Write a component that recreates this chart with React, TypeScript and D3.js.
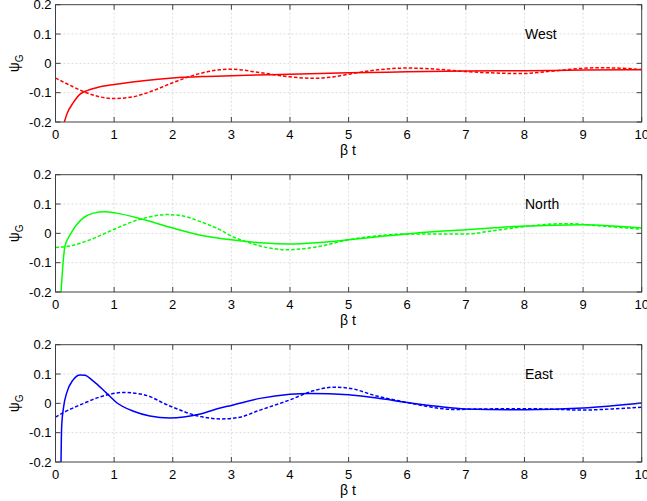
import React from "react";
import * as d3 from "d3";

type Pt = [number, number];

const xTicks = [0, 1, 2, 3, 4, 5, 6, 7, 8, 9, 10];
const yTicks = [-0.2, -0.1, 0, 0.1, 0.2];
const yTickLabels = ["-0.2", "-0.1", "0", "0.1", "0.2"];
const panelNames = ["West", "North", "East"];
const panelColors = ["#ff0000", "#00ff00", "#0000ff"];

const westSolid: Pt[] = [
  [0.15, -0.2], [0.2, -0.17], [0.3, -0.135], [0.42, -0.105], [0.55, -0.092], [0.7, -0.083],
  [1, -0.072], [1.5, -0.059], [2, -0.05], [2.5, -0.045], [3, -0.042], [4, -0.037],
  [5, -0.032], [6, -0.029], [7, -0.026], [8, -0.025], [9, -0.023], [10, -0.022],
];
const westDashed: Pt[] = [
  [0, -0.05], [0.25, -0.075], [0.5, -0.098], [0.75, -0.114], [1, -0.12], [1.3, -0.115],
  [1.6, -0.098], [2, -0.066], [2.4, -0.038], [2.8, -0.022], [3, -0.02], [3.5, -0.032],
  [4, -0.046], [4.4, -0.051], [4.7, -0.047], [5.03, -0.036], [5.5, -0.022], [6, -0.016],
  [6.5, -0.02], [7, -0.028], [7.5, -0.033], [7.93, -0.035], [8.5, -0.026], [9, -0.017],
  [9.3, -0.015], [9.7, -0.017], [10, -0.021],
];
const northSolid: Pt[] = [
  [0.094, -0.2], [0.12, -0.124], [0.16, -0.045], [0.22, -0.015], [0.28, 0.006], [0.37, 0.032],
  [0.47, 0.052], [0.645, 0.069], [0.845, 0.074], [1.04, 0.069], [1.5, 0.047], [2, 0.018],
  [2.5, -0.007], [3, -0.022], [3.5, -0.032], [4, -0.036], [4.5, -0.031], [5, -0.022],
  [5.5, -0.012], [6, -0.002], [6.5, 0.006], [7, 0.012], [7.5, 0.019], [8, 0.025],
  [8.5, 0.028], [9, 0.029], [9.5, 0.025], [10, 0.018],
];
const northDashed: Pt[] = [
  [0, -0.048], [0.25, -0.043], [0.59, -0.022], [0.99, 0.013], [1.39, 0.045], [1.6, 0.056],
  [1.9, 0.064], [2.2, 0.058], [2.47, 0.04], [2.81, 0.012], [3, -0.009], [3.32, -0.033],
  [3.65, -0.05], [3.95, -0.056], [4.2, -0.053], [4.46, -0.046], [5, -0.022], [5.42, -0.01],
  [6, -0.002], [6.5, -0.002], [7, -0.002], [7.5, 0.01], [8, 0.023], [8.5, 0.032],
  [8.8, 0.033], [9.2, 0.027], [10, 0.014],
];
const eastSolid: Pt[] = [
  [0.094, -0.2], [0.1, -0.12], [0.105, -0.079], [0.14, -0.01], [0.19, 0.035], [0.3, 0.08],
  [0.42, 0.097], [0.5, 0.096], [0.645, 0.076], [0.87, 0.035], [1.04, 0.003], [1.33, -0.027],
  [1.61, -0.043], [1.95, -0.05], [2.47, -0.036], [2.81, -0.016], [3, -0.007], [3.49, 0.017],
  [4, 0.031], [4.34, 0.034], [5, 0.029], [5.48, 0.018], [6, 0.003], [6.51, -0.01],
  [7, -0.019], [8, -0.022], [9, -0.016], [10, 0.001],
];
const eastDashed: Pt[] = [
  [0, -0.047], [0.16, -0.029], [0.47, -0.001], [0.76, 0.022], [1.16, 0.037], [1.5, 0.03],
  [1.95, -0.009], [2.47, -0.045], [2.81, -0.053], [3.1, -0.049], [3.49, -0.023], [4, 0.012],
  [4.4, 0.043], [4.74, 0.055], [5, 0.052], [5.48, 0.025], [6, 0.003], [6.51, -0.016],
  [6.79, -0.021], [7.36, -0.019], [8, -0.018], [8.5, -0.02], [9, -0.023], [9.5, -0.019],
  [10, -0.013],
];

const solids = [westSolid, northSolid, eastSolid];
const dashes = [westDashed, northDashed, eastDashed];

const W = 647;
const H = 501;
const left = 55.5;
const right = 641.7;
const panelTops = [4.7, 174.7, 344.7];
const panelH = 117.3;
const font = "Liberation Sans, Arial, Helvetica, sans-serif";

function Panel({ idx }: { idx: number }) {
  const top = panelTops[idx];
  const bottom = top + panelH;
  const x = d3.scaleLinear().domain([0, 10]).range([left, right]);
  const y = d3.scaleLinear().domain([-0.2, 0.2]).range([bottom, top]);
  const line = d3
    .line<Pt>()
    .x((d) => x(d[0]))
    .y((d) => y(d[1]))
    .curve(d3.curveMonotoneX);
  const color = panelColors[idx];
  const clipId = `clip${idx}`;
  return (
    <g>
      <defs>
        <clipPath id={clipId}>
          <rect x={left} y={top} width={right - left} height={panelH} />
        </clipPath>
      </defs>
      {xTicks.slice(1, -1).map((t) => (
        <line key={"gx" + t} x1={x(t)} x2={x(t)} y1={top} y2={bottom} stroke="#d4d4d4" strokeWidth={0.8} strokeDasharray="2,2" />
      ))}
      {yTicks.slice(1, -1).map((t) => (
        <line key={"gy" + t} x1={left} x2={right} y1={y(t)} y2={y(t)} stroke="#d4d4d4" strokeWidth={0.8} strokeDasharray="2,2" />
      ))}
      <g clipPath={`url(#${clipId})`}>
        <path d={line(solids[idx]) || ""} fill="none" stroke={color} strokeWidth={1.5} />
        <path d={line(dashes[idx]) || ""} fill="none" stroke={color} strokeWidth={1.5} strokeDasharray="3.5,2" />
      </g>
      {xTicks.map((t) => (
        <g key={"tx" + t}>
          <line x1={x(t)} x2={x(t)} y1={bottom} y2={bottom - 5} stroke="#404040" />
          <line x1={x(t)} x2={x(t)} y1={top} y2={top + 5} stroke="#404040" />
          <text x={x(t)} y={bottom + 17} textAnchor="middle" fontSize={13} fontFamily={font} fill="#000">
            {t}
          </text>
        </g>
      ))}
      {yTicks.map((t, i) => (
        <g key={"ty" + t}>
          <line x1={left} x2={left + 5} y1={y(t)} y2={y(t)} stroke="#404040" />
          <line x1={right} x2={right - 5} y1={y(t)} y2={y(t)} stroke="#404040" />
          <text x={left - 4} y={y(t) + 4.5} textAnchor="end" fontSize={13} fontFamily={font} fill="#000">
            {yTickLabels[i]}
          </text>
        </g>
      ))}
      <rect x={left} y={top} width={right - left} height={panelH} fill="none" stroke="#404040" strokeWidth={1} />
      <text x={348} y={bottom + 33} textAnchor="middle" fontSize={14} fontFamily={font} fill="#000">
        β t
      </text>
      <text
        transform={`translate(19, ${top + panelH / 2}) rotate(-90)`}
        textAnchor="middle"
        fontSize={14}
        fontFamily={font}
        fill="#000"
      >
        ψ<tspan fontSize={10} dy={4}>G</tspan>
      </text>
      <text x={525} y={top + 34} fontSize={14} fontFamily={font} fill="#000">
        {panelNames[idx]}
      </text>
    </g>
  );
}

export default function App() {
  return (
    <svg
      width={W}
      height={H}
      viewBox={`0 0 ${W} ${H}`}
      style={{ position: "absolute", left: 0, top: 0, background: "#fff" }}
    >
      <rect width={W} height={H} fill="#fff" />
      {[0, 1, 2].map((i) => (
        <Panel key={i} idx={i} />
      ))}
    </svg>
  );
}
